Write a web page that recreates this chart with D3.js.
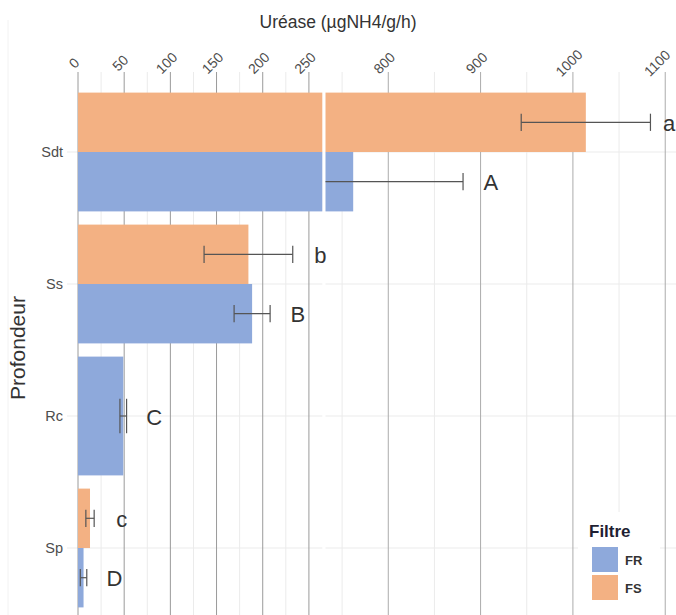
<!DOCTYPE html>
<html><head><meta charset="utf-8">
<script src="https://cdn.jsdelivr.net/npm/d3@7"></script>
<style>body{margin:0;background:#fff} text{font-family:"Liberation Sans", Arial, sans-serif}</style>
</head><body><svg id="c" width="676" height="615"></svg>
<script>
const categories = ["Sdt","Ss","Rc","Sp"];
const filters = ["FR","FS"];
const fsMean = [1014, 184.5, null, 13];
const fsErr = [70, 48, null, 4.5];
const frMean = [762, 188.5, 49, 6];
const frErr = [119, 19.5, 3.6, 3.5];
const fsLetters = ["a","b",null,"c"];
const frLetters = ["A","B","C","D"];
const leftTicks = [0,50,100,150,200,250];
const rightTicks = [800,900,1000,1100];
const leftMinor = [25,75,125,175,225];
const rightMinor = [750,850,950,1050];
const colors = {FR:"#8EA9DB", FS:"#F3B183"};

const svg = d3.select("#c");
const W = 676, H = 615;
const panelTop = 72;
const xL = d3.scaleLinear().domain([0, 264.5]).range([78, 322.3]);
const xR = d3.scaleLinear().domain([732, 1112]).range([325.5, 676.3]);
const y = d3.scalePoint().domain(categories).range([152, 548]);
const bandH = y.step() * 0.9;

const defs = svg.append("defs");
defs.append("clipPath").attr("id","clipL").append("rect")
  .attr("x", xL.range()[0]).attr("y", 0).attr("width", xL.range()[1]-xL.range()[0]).attr("height", H);
defs.append("clipPath").attr("id","clipR").append("rect")
  .attr("x", xR.range()[0]).attr("y", 0).attr("width", xR.range()[1]-xR.range()[0]).attr("height", H);

// faint outer line
svg.append("line").attr("x1",8).attr("x2",8).attr("y1",20).attr("y2",H).attr("stroke","#f2f2f2");

// title
svg.append("text").attr("x",338).attr("y",28).attr("text-anchor","middle")
  .attr("font-size",17.5).attr("fill","#333").text("Uréase (µgNH4/g/h)");

// horizontal gridlines
const gH = svg.append("g");
categories.forEach(c=>{
  gH.append("line").attr("x1",67).attr("x2",xL.range()[1]).attr("y1",y(c)).attr("y2",y(c)).attr("stroke","#ebebeb");
  gH.append("line").attr("x1",xR.range()[0]).attr("x2",W).attr("y1",y(c)).attr("y2",y(c)).attr("stroke","#ebebeb");
});

// vertical gridlines
const gV = svg.append("g");
leftMinor.forEach(v=>gV.append("line").attr("x1",xL(v)).attr("x2",xL(v)).attr("y1",panelTop).attr("y2",H).attr("stroke","#ebebeb"));
rightMinor.forEach(v=>gV.append("line").attr("x1",xR(v)).attr("x2",xR(v)).attr("y1",panelTop).attr("y2",H).attr("stroke","#ebebeb"));
leftTicks.forEach(v=>gV.append("line").attr("x1",xL(v)).attr("x2",xL(v)).attr("y1",panelTop).attr("y2",H).attr("stroke","#9a9a9a"));
rightTicks.forEach(v=>gV.append("line").attr("x1",xR(v)).attr("x2",xR(v)).attr("y1",panelTop).attr("y2",H).attr("stroke","#ababab"));

// tick labels
const tickLabel = (px, v) => svg.append("text")
  .attr("transform",`translate(${Math.min(px-4, W-19)},63) rotate(-45)`)
  .attr("text-anchor","middle").attr("dominant-baseline","central").attr("font-size",14).attr("fill","#4d4d4d").text(v);
leftTicks.forEach(v=>tickLabel(xL(v), v));
rightTicks.forEach(v=>tickLabel(xR(v), v));

// build records
const recs = [];
categories.forEach((c,i)=>{
  const present = [];
  if (fsMean[i] != null) present.push({f:"FS", m:fsMean[i], e:fsErr[i], l:fsLetters[i]});
  if (frMean[i] != null) present.push({f:"FR", m:frMean[i], e:frErr[i], l:frLetters[i]});
  const h = bandH / present.length;
  present.forEach((p,k)=>{
    recs.push({...p, c, y0: y(c) - bandH/2 + k*h, h});
  });
});

[["clipL", xL], ["clipR", xR]].forEach(([clip, x])=>{
  const g = svg.append("g").attr("clip-path",`url(#${clip})`);
  g.selectAll("rect.bar").data(recs).join("rect")
    .attr("x", x(0)).attr("y", d=>d.y0).attr("width", d=>x(d.m)-x(0)).attr("height", d=>d.h)
    .attr("fill", d=>colors[d.f]);
  const eb = g.selectAll("g.eb").data(recs).join("g");
  eb.append("line").attr("x1",d=>x(d.m-d.e)).attr("x2",d=>x(d.m+d.e))
    .attr("y1",d=>d.y0+d.h/2).attr("y2",d=>d.y0+d.h/2).attr("stroke","#555").attr("stroke-width",1.2);
  eb.append("line").attr("x1",d=>x(d.m-d.e)).attr("x2",d=>x(d.m-d.e))
    .attr("y1",d=>d.y0+d.h/2-d.h*0.145).attr("y2",d=>d.y0+d.h/2+d.h*0.145).attr("stroke","#555").attr("stroke-width",1.2);
  eb.append("line").attr("x1",d=>x(d.m+d.e)).attr("x2",d=>x(d.m+d.e))
    .attr("y1",d=>d.y0+d.h/2-d.h*0.145).attr("y2",d=>d.y0+d.h/2+d.h*0.145).attr("stroke","#555").attr("stroke-width",1.2);
});

// letters
recs.forEach(d=>{
  const v = d.m + d.e + 30;
  let px = v > xL.domain()[1] ? xR(v) : xL(v);
  px = Math.min(px, W - 7);
  svg.append("text").attr("x",px).attr("y",d.y0+d.h/2+1).attr("text-anchor","middle")
    .attr("dominant-baseline","central").attr("font-size",22).attr("fill","#333").text(d.l);
});

// category labels
categories.forEach(c=>svg.append("text").attr("x",63).attr("y",y(c)).attr("text-anchor","end")
  .attr("dominant-baseline","central").attr("font-size",14.5).attr("fill","#4d4d4d").text(c));

// y title
svg.append("text").attr("transform","translate(25,348) rotate(-90)").attr("text-anchor","middle")
  .attr("font-size",21).attr("fill","#333").text("Profondeur");

// legend
const lg = svg.append("g");
lg.append("rect").attr("x",578).attr("y",512).attr("width",82).attr("height",103).attr("fill","#fff");
lg.append("text").attr("x",589).attr("y",537).attr("font-size",17).attr("font-weight","bold").attr("fill","#1f1f33").text("Filtre");
filters.forEach((f,i)=>{
  lg.append("rect").attr("x",592).attr("y",547+i*28).attr("width",26).attr("height",25).attr("fill",colors[f]);
  lg.append("text").attr("x",625).attr("y",560+i*28).attr("dominant-baseline","central")
    .attr("font-size",13).attr("font-weight","bold").attr("fill","#333").text(f);
});
</script></body></html>
